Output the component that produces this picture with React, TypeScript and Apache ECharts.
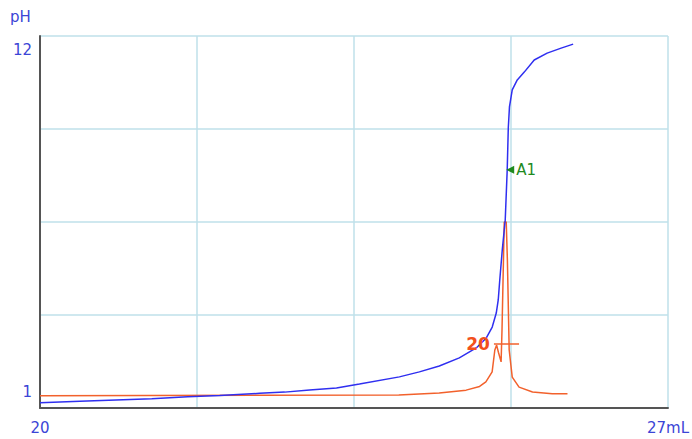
import React, { useEffect, useRef } from "react";
import * as echarts from "echarts";

// Titration curve (volume mL, pH)
const phCurve: [number, number][] = [
  [20.0, 0.67], [20.445, 0.72], [20.846, 0.76], [21.246, 0.8], [21.647, 0.86],
  [22.003, 0.9], [22.448, 0.97], [22.727, 1.01], [23.005, 1.08], [23.305, 1.14],
  [23.561, 1.27], [24.006, 1.5], [24.229, 1.66], [24.451, 1.85], [24.674, 2.11],
  [24.863, 2.43], [24.975, 2.75], [25.041, 3.1], [25.086, 3.55], [25.108, 3.97],
  [25.125, 4.61], [25.153, 5.58], [25.186, 6.54], [25.208, 8.15], [25.22, 9.49],
  [25.233, 10.17], [25.264, 10.72], [25.32, 11.04], [25.398, 11.29], [25.509, 11.68],
  [25.653, 11.9], [25.809, 12.06], [25.943, 12.19],
];

// First derivative curve (volume mL, relative value 0..100)
const derivCurve: [number, number][] = [
  [20.0, 3.3], [24.0, 3.5], [24.45, 4.0], [24.75, 4.8], [24.9, 5.8], [24.97, 7.0],
  [25.04, 9.7], [25.07, 15.6], [25.09, 16.9], [25.11, 15.0], [25.14, 12.4],
  [25.15, 21.0], [25.175, 50.0], [25.197, 50.0], [25.21, 39.8], [25.23, 15.6],
  [25.264, 8.3], [25.34, 5.6], [25.49, 4.3], [25.71, 3.8], [25.88, 3.8],
];

const endpointLabel = "A1";
const endpointPoint: [number, number] = [25.208, 8.15];
const thresholdLabel = "20";
const thresholdLevel = 17.2;
const thresholdRange: [number, number] = [25.06, 25.34];

const xTickLabels = ["20", "27mL"];
const yTickValues = [1, 12];
const yName = "pH";

export default function App() {
  const ref = useRef<HTMLDivElement>(null);
  useEffect(() => {
    if (!ref.current) return;
    const chart = echarts.init(ref.current, null, { renderer: "svg" });
    const gridColor = "#bfe1ea";
    const axisDark = "#555555";
    const labelBlue = "#3b45d6";
    const font = "DejaVu Sans";
    chart.setOption({
      animation: false,
      backgroundColor: "#ffffff",
      grid: { left: 40, right: 23, top: 36, bottom: 31 },
      graphic: [
        {
          type: "text",
          left: 10,
          top: 9,
          style: { text: yName, fill: labelBlue, fontSize: 15, fontFamily: font },
        },
      ],
      xAxis: [
        {
          type: "value", min: 0, max: 4, interval: 1, position: "bottom",
          axisLine: { show: false }, axisTick: { show: false }, axisLabel: { show: false },
          splitLine: { show: true, lineStyle: { color: gridColor, width: 1.5 } },
        },
        {
          type: "value", min: 20, max: 27, interval: 7, position: "bottom",
          axisLine: { show: true, lineStyle: { color: axisDark, width: 2 } },
          axisTick: { show: false },
          splitLine: { show: false },
          axisLabel: {
            show: true, color: labelBlue, fontSize: 15, fontFamily: font, margin: 12,
            formatter: (v: number) => (v === 20 ? xTickLabels[0] : v === 27 ? xTickLabels[1] : ""),
          },
        },
      ],
      yAxis: [
        {
          type: "value", min: 0, max: 4, interval: 1, position: "left",
          axisLine: { show: false }, axisTick: { show: false }, axisLabel: { show: false },
          splitLine: { show: true, lineStyle: { color: gridColor, width: 1.5 } },
        },
        {
          type: "value", min: 0.5, max: 12.45, position: "left",
          axisLine: { show: true, lineStyle: { color: axisDark, width: 2 } },
          axisTick: { show: false },
          splitLine: { show: false },
          axisLabel: {
            show: true, customValues: yTickValues, color: labelBlue, fontSize: 15,
            fontFamily: font, margin: 8,
          },
        },
        { type: "value", min: 0, max: 100, show: false },
      ],
      series: [
        {
          type: "line", xAxisIndex: 1, yAxisIndex: 2, data: derivCurve,
          showSymbol: false, symbol: "none",
          lineStyle: { color: "#f2612c", width: 1.5 },
          markLine: {
            silent: true, symbol: "none", animation: false,
            lineStyle: { color: "#f2612c", width: 1.5, type: "solid" },
            label: {
              show: true, position: "start", formatter: thresholdLabel,
              color: "#f2501c", fontSize: 17, fontWeight: "bold", fontFamily: font, distance: 4,
            },
            data: [[
              { coord: [thresholdRange[0], thresholdLevel] },
              { coord: [thresholdRange[1], thresholdLevel] },
            ]],
          },
        },
        {
          type: "line", xAxisIndex: 1, yAxisIndex: 1, data: phCurve,
          showSymbol: false, symbol: "none",
          lineStyle: { color: "#2f2ff0", width: 1.5 },
          markPoint: {
            silent: true, animation: false,
            data: [{
              coord: endpointPoint, symbol: "triangle", symbolSize: [8, 8],
              symbolRotate: 90, symbolOffset: [3, 0],
              itemStyle: { color: "#1e8a1e" },
              label: {
                show: true, position: "right", formatter: endpointLabel, distance: 2,
                color: "#1e8a1e", fontSize: 15, fontFamily: font,
              },
            }],
          },
        },
      ],
    });
    return () => chart.dispose();
  }, []);
  return (
    <div
      ref={ref}
      style={{ position: "absolute", left: 0, top: 0, width: 692, height: 439 }}
    />
  );
}
